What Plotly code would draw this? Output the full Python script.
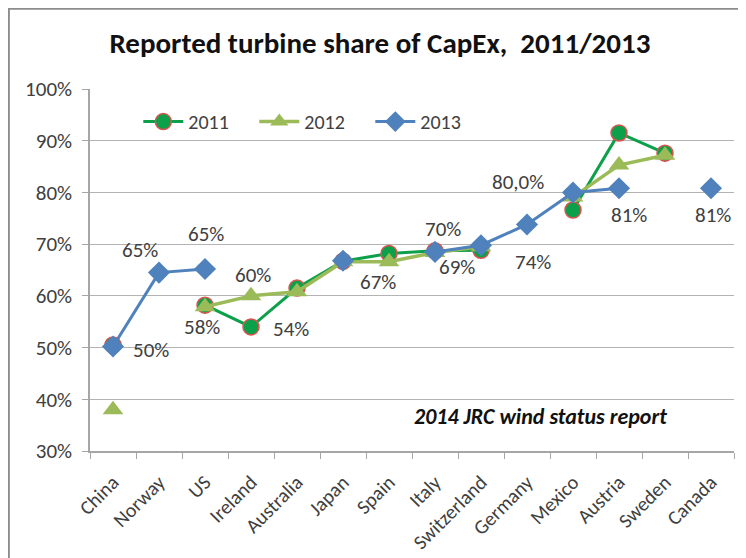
import plotly.graph_objects as go

countries = ["China", "Norway", "US", "Ireland", "Australia", "Japan", "Spain",
             "Italy", "Switzerland", "Germany", "Mexico", "Austria", "Sweden", "Canada"]

share_2011 = [0.505, None, 0.582, 0.540, 0.615, 0.667, 0.682, 0.687, 0.688, None, 0.766, 0.915, 0.876, None]
share_2012 = [0.380, None, 0.579, 0.600, 0.608, 0.666, 0.666, 0.684, 0.695, None, 0.791, 0.853, 0.872, None]
share_2013 = [0.502, 0.645, 0.652, None, None, 0.668, None, 0.685, 0.698, 0.738, 0.800, 0.808, None, 0.808]

# data labels: (series, country, text)
label_series = ["2013", "2013", "2013", "2011", "2012", "2011", "2012", "2013", "2011", "2013", "2013", "2013", "2013"]
label_country = ["China", "Norway", "US", "US", "Ireland", "Ireland", "Spain", "Italy", "Switzerland",
                 "Germany", "Mexico", "Austria", "Canada"]
label_text = ["50%", "65%", "65%", "58%", "60%", "54%", "67%", "70%", "69%", "74%", "80,0%", "81%", "81%"]
label_dx = [38, -19, 1, -3, 2, 40, -11, 8, -24, 6, -55, 10, 2]
label_dy = [-3, 23, 35, -22, 21, -2, -20, 23, -17, -38, 10, -27, -27]

series_data = {"2011": share_2011, "2012": share_2012, "2013": share_2013}

FONT = "Carlito, Calibri, 'Liberation Sans', Arial, sans-serif"
TXT = "#404040"

fig = go.Figure()
fig.add_trace(go.Scatter(
    x=countries, y=share_2011, name="2011", mode="lines+markers",
    line=dict(color="#0ca04a", width=3),
    marker=dict(symbol="circle", size=16, color="#0ca04a", line=dict(color="#d9534f", width=1.5)),
    connectgaps=False))
fig.add_trace(go.Scatter(
    x=countries, y=share_2012, name="2012", mode="lines+markers",
    line=dict(color="#9bbb59", width=3.5),
    marker=dict(symbol="triangle-up", size=18, color="#9bbb59"),
    connectgaps=False))
fig.add_trace(go.Scatter(
    x=countries, y=share_2013, name="2013", mode="lines+markers",
    line=dict(color="#4f81bd", width=3),
    marker=dict(symbol="diamond", size=17, color="#4f81bd"),
    connectgaps=False))

for s, c, t, dx, dy in zip(label_series, label_country, label_text, label_dx, label_dy):
    yv = series_data[s][countries.index(c)]
    fig.add_annotation(x=c, y=yv, xref="x", yref="y", text=t, showarrow=False,
                       xshift=dx, yshift=dy, font=dict(family=FONT, size=21, color=TXT))

fig.add_annotation(x=0.70, y=0.094, xref="paper", yref="paper", text="<b><i>2014 JRC wind status report</i></b>",
                   showarrow=False, xanchor="center", yanchor="middle",
                   font=dict(family=FONT, size=22, color="#111111"))

# outer chart border
fig.add_shape(type="rect", xref="paper", yref="paper", x0=-0.126, x1=1.2, y0=-1.0, y1=1.222,
              line=dict(color="#8c8c8c", width=2), fillcolor="rgba(0,0,0,0)", layer="below")

fig.update_layout(
    width=738, height=550,
    margin=dict(l=82, r=12, t=81, b=107, autoexpand=False),
    paper_bgcolor="white", plot_bgcolor="white",
    title=dict(text="<b>Reported turbine share of CapEx,  2011/2013</b>", x=0.504, xanchor="center",
               y=0.936, yanchor="middle", yref="container",
               font=dict(family=FONT, size=29, color="#111111")),
    showlegend=True,
    legend=dict(orientation="h", x=0.075, y=0.91, xanchor="left", yanchor="middle",
                font=dict(family=FONT, size=20, color=TXT), bgcolor="rgba(0,0,0,0)",
                entrywidth=61, entrywidthmode="pixels", itemwidth=40),
    xaxis=dict(type="category", categoryorder="array", categoryarray=countries,
               range=[-0.5, 13.5], tickangle=-45, tickson="boundaries", automargin=False,
               ticks="outside", ticklen=6, tickcolor="#a6a6a6", ticklabelstandoff=10,
               showline=True, linecolor="#a6a6a6", linewidth=1.5, showgrid=False,
               tickfont=dict(family=FONT, size=20, color=TXT)),
    yaxis=dict(range=[0.3, 1.0], tickformat=".0%", dtick=0.1, tick0=0.3, automargin=False,
               ticks="outside", ticklen=6, tickcolor="#a6a6a6", ticklabelstandoff=6,
               showline=True, linecolor="#a6a6a6", linewidth=1.5,
               showgrid=True, gridcolor="#b3b3b3", gridwidth=1, zeroline=False,
               tickfont=dict(family=FONT, size=21, color=TXT)),
)

fig.write_html("out.html")
